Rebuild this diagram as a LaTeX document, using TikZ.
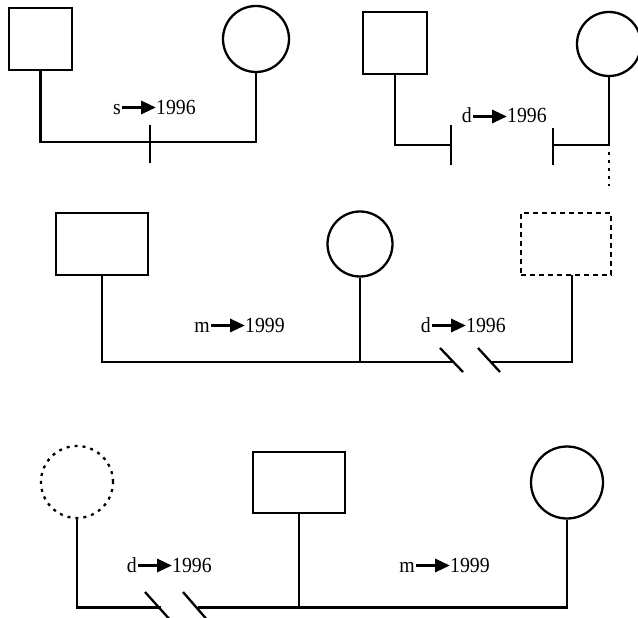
\documentclass[tikz,border=0pt]{standalone}
\usepackage{fontspec}
\setmainfont{Liberation Serif}
\newfontfamily\labfont[FakeStretch=0.92]{Liberation Serif}
\usetikzlibrary{arrows.meta,calc}
\tikzset{
  ln/.style={line width=2.3pt},
  sqbox/.style={draw, rectangle, line width=2.3pt, inner sep=0pt},
  cbox/.style={draw, circle, line width=2.3pt, inner sep=0pt},
  dashbox/.style={dash pattern=on 5pt off 4pt},
  dotbox/.style={dash pattern=on 3pt off 5pt},
  lbl/.style={inner sep=0pt, font=\labfont\fontsize{21.5}{25}\selectfont},
  evarrow/.style={line width=3.2pt, -{Triangle[length=15pt,width=13pt]}},
}
\newcommand{\evlab}[5]{%
  \coordinate (#1o) at (#2,#3);
  \node[lbl, anchor=base east] (#1l) at (#1o) {#4};
  \node[lbl, anchor=base west] (#1y) at ($(#1o)+(35,0)$) {#5};
  \draw[evarrow] ($(#1o)+(1,-6.5)$) -- ($(#1o)+(35,-6.5)$);
}
\begin{document}
\begin{tikzpicture}[x=1pt,y=-1pt]
\useasboundingbox (0,0) rectangle (638,618);
\fill[white] (0,0) rectangle (638,618);
% ---------- panel 1
\node[sqbox, minimum width=63pt, minimum height=62pt] (sq1) at (40.5,39) {};
\node[cbox, minimum size=66pt] (c1) at (256,39) {};
\coordinate (b1) at (0,142);
\draw[ln] (sq1.south) -- (sq1.south |- b1) -- (c1.south |- b1) -- (c1.south);
\coordinate (t1a) at (150,125);
\coordinate (t1b) at (150,163);
\draw[ln] (t1a) -- (t1b);
\evlab{p1}{121}{114}{s}{1996}
% ---------- panel 2
\node[sqbox, minimum width=64pt, minimum height=62pt] (sq2) at (395,43) {};
\node[cbox, minimum size=64pt] (c2) at (609,44) {};
\coordinate (b2) at (0,145);
\coordinate (e2a) at (451,145);
\coordinate (e2b) at (553,145);
\draw[ln] (sq2.south) -- (sq2.south |- b2) -- (e2a);
\draw[ln] (451,125) -- (451,165);
\draw[ln] (c2.south) -- (c2.south |- b2) coordinate (k2) -- (e2b);
\draw[ln] (553,128) -- (553,165);
\coordinate (k2d) at (609,186);
\draw[ln, dotbox] ($(k2)+(0,7)$) -- (k2d);
\evlab{p2}{472}{123}{d}{1996}
% ---------- panel 3
\node[sqbox, minimum width=92pt, minimum height=62pt] (sq3) at (102,244) {};
\node[cbox, minimum size=65pt] (c3) at (360,244) {};
\node[sqbox, dashbox, minimum width=90pt, minimum height=62pt] (dq3) at (566,244) {};
\coordinate (b3) at (0,362);
\coordinate (d3) at (572,275);
\coordinate (g3a) at (453,362);
\coordinate (g3b) at (491,362);
\draw[ln] (sq3.south) -- (sq3.south |- b3) -- (g3a);
\draw[ln] (c3.south) -- (c3.south |- b3);
\draw[ln] (g3b) -- (d3 |- b3) -- (d3);
\draw[ln] (440,348) -- (463,372);
\draw[ln] (478,348) -- (500,372);
\evlab{p3m}{210}{332}{m}{1999}
\evlab{p3d}{431}{332}{d}{1996}
% ---------- panel 4
\node[cbox, dotbox, minimum size=72pt] (dc4) at (77,482) {};
\node[sqbox, minimum width=92pt, minimum height=61pt] (sq4) at (299,482.5) {};
\node[cbox, minimum size=72pt] (c4) at (567,482.5) {};
\coordinate (b4) at (0,607.5);
\coordinate (g4a) at (160.5,607.5);
\coordinate (g4b) at (198,607.5);
\draw[ln] (dc4.south) -- (dc4.south |- b4) -- (g4a);
\draw[ln] (g4b) -- (c4.south |- b4) -- (c4.south);
\draw[ln] (sq4.south) -- (sq4.south |- b4);
\draw[ln] (145,592) -- (172,622);
\draw[ln] (183,592) -- (209,622);
\evlab{p4d}{137}{572}{d}{1996}
\evlab{p4m}{415}{572}{m}{1999}
\end{tikzpicture}
\end{document}
